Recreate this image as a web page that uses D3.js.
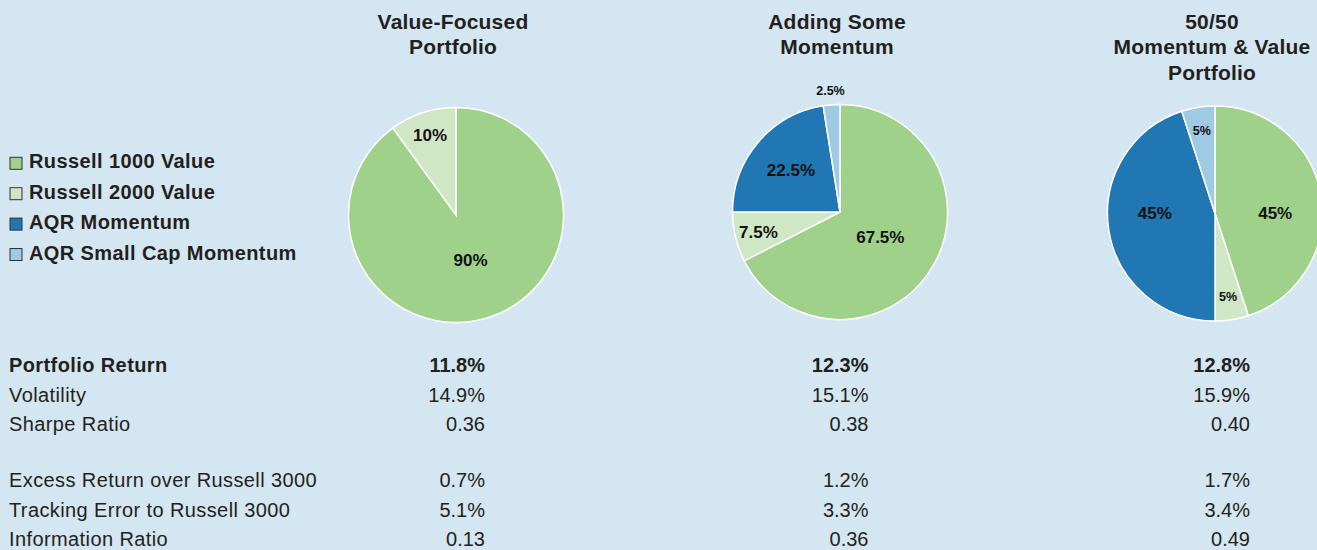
<!DOCTYPE html>
<html>
<head>
<meta charset="utf-8">
<script src="https://cdn.jsdelivr.net/npm/d3@7"></script>
<style>
  html, body { margin: 0; padding: 0; background: #d4e6f1; }
  svg { display: block; }
  text { font-family: "Liberation Sans", Arial, Helvetica, sans-serif; fill: #231f20; }
</style>
</head>
<body>
<svg id="chart" width="1317" height="550"></svg>
<script>
// ---------- DATA ----------
const seriesNames = ["Russell 1000 Value", "Russell 2000 Value", "AQR Momentum", "AQR Small Cap Momentum"];
const seriesColors = ["#a0d18b", "#d0e7c6", "#2077b4", "#9ecbe3"];

const portfolioTitles = [
  ["Value-Focused", "Portfolio"],
  ["Adding Some", "Momentum"],
  ["50/50", "Momentum & Value", "Portfolio"]
];

// weights (%) in series order
const weightsValueFocused = [90, 10, 0, 0];
const weightsAddingMomentum = [67.5, 7.5, 22.5, 2.5];
const weights5050 = [45, 5, 45, 5];

const metricLabels = [
  "Portfolio Return", "Volatility", "Sharpe Ratio",
  "Excess Return over Russell 3000", "Tracking Error to Russell 3000", "Information Ratio"
];
const portfolioReturn = [11.8, 12.3, 12.8];
const volatility = [14.9, 15.1, 15.9];
const sharpeRatio = [0.36, 0.38, 0.40];
const excessReturn = [0.7, 1.2, 1.7];
const trackingError = [5.1, 3.3, 3.4];
const informationRatio = [0.13, 0.36, 0.49];

// ---------- LAYOUT ----------
const svg = d3.select("#chart");
const portfolios = [0, 1, 2];
const allWeights = [weightsValueFocused, weightsAddingMomentum, weights5050];

const xPie = d3.scaleOrdinal().domain(portfolios).range([456, 840, 1215]);
const yPie = d3.scaleOrdinal().domain(portfolios).range([215, 212, 213.5]);
const xValue = d3.scaleOrdinal().domain(portfolios).range([485, 868.5, 1250]);
const color = d3.scaleOrdinal().domain(seriesNames).range(seriesColors);

const R = 107.5;
const pie = d3.pie().sort(null).value(d => d.value);
const arc = d3.arc().innerRadius(0).outerRadius(R);
const fmtPct = v => String(v) + "%";

// Titles
portfolios.forEach(p => {
  const t = svg.append("text")
    .attr("x", xPie(p) - 3)
    .attr("text-anchor", "middle")
    .style("font-weight", "bold")
    .style("font-size", "21px")
    .style("letter-spacing", "0.2px");
  portfolioTitles[p].forEach((line, i) => {
    t.append("tspan").attr("x", xPie(p) - 3).attr("y", 28.5 + i * 25.5).text(line);
  });
});

// Pies
portfolios.forEach(p => {
  const data = seriesNames.map((name, i) => ({ name, value: allWeights[p][i] }));
  const arcs = pie(data).filter(d => d.data.value > 0);
  const g = svg.append("g").attr("transform", `translate(${xPie(p)},${yPie(p)})`);
  g.selectAll("path").data(arcs).join("path")
    .attr("d", arc)
    .attr("fill", d => color(d.data.name))
    .attr("stroke", "#ffffff")
    .attr("stroke-width", 1.5);

  g.selectAll("text").data(arcs).join("text")
    .each(function (d) {
      const f = d.data.value / 100;
      let k;
      let a = (d.startAngle + d.endAngle) / 2;
      if (f < 0.04) k = 1.13;
      else if (f <= 0.10) k = 0.78;
      else if (f < 0.4) k = 0.6;
      else if (f < 0.6) { k = 0.56; a = Math.round(a / (Math.PI / 2)) * (Math.PI / 2); }
      else k = 0.44;
      const r = R * k;
      d3.select(this)
        .attr("x", Math.sin(a) * r)
        .attr("y", -Math.cos(a) * r)
        .style("font-size", f <= 0.05 ? "12.5px" : "17px");
    })
    .attr("text-anchor", "middle")
    .attr("dy", "0.35em")
    .style("font-weight", "bold")
    .style("fill", "#111")
    .text(d => fmtPct(d.data.value));
});

// Legend
const legend = svg.append("g");
const legendRow = d3.scaleLinear().domain([0, 3]).range([168.3, 259.5]);
seriesNames.forEach((name, i) => {
  legend.append("rect")
    .attr("x", 10).attr("y", legendRow(i) - 11)
    .attr("width", 12).attr("height", 12)
    .attr("fill", color(name))
    .attr("stroke", "#333").attr("stroke-width", 1);
  legend.append("text")
    .attr("x", 29).attr("y", legendRow(i))
    .style("font-weight", "bold").style("font-size", "20px")
    .style("letter-spacing", "0.4px")
    .text(name);
});

// Table
const metricValues = [
  portfolioReturn.map(v => v.toFixed(1) + "%"),
  volatility.map(v => v.toFixed(1) + "%"),
  sharpeRatio.map(v => v.toFixed(2)),
  excessReturn.map(v => v.toFixed(1) + "%"),
  trackingError.map(v => v.toFixed(1) + "%"),
  informationRatio.map(v => v.toFixed(2))
];
const rowY = i => 372 + i * 29.5 + (i >= 3 ? 26.5 : 0);
metricLabels.forEach((label, i) => {
  const bold = i === 0;
  svg.append("text")
    .attr("x", 9).attr("y", rowY(i))
    .style("font-size", "20px")
    .style("letter-spacing", "0.4px")
    .style("font-weight", bold ? "bold" : "normal")
    .text(label);
  portfolios.forEach(p => {
    svg.append("text")
      .attr("x", xValue(p)).attr("y", rowY(i))
      .attr("text-anchor", "end")
      .style("font-size", "20px")
      .style("font-weight", bold ? "bold" : "normal")
      .text(metricValues[i][p]);
  });
});
</script>
</body>
</html>
